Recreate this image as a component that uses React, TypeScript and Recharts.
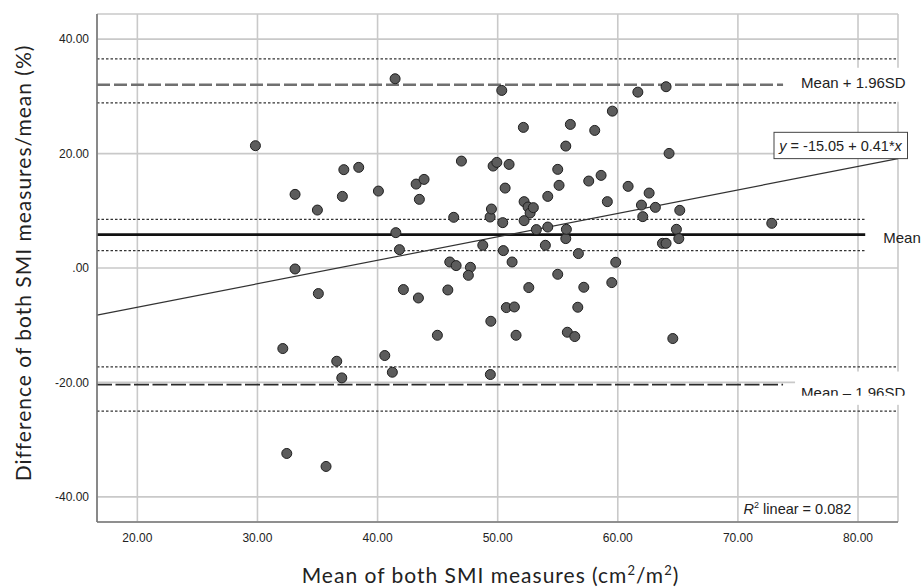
import {
  CartesianGrid,
  ReferenceLine,
  Scatter,
  ScatterChart,
  XAxis,
  YAxis,
} from "recharts";

// Mean of both SMI measures (x) and difference/mean in % (y)
const meanSmi = [
  29.83, 33.13, 34.99, 33.13, 35.07, 32.11, 32.44, 35.71, 36.6, 37.02, 37.19, 37.07, 38.43,
  40.07, 40.6, 41.23, 41.46, 41.52, 41.82, 42.15, 43.21, 43.87, 43.48, 43.4, 44.98, 45.85,
  46.01, 46.34, 46.54, 46.98, 47.73, 47.56, 48.76, 49.37, 49.48, 49.43, 49.39, 49.62, 49.93,
  50.34, 50.42, 50.47, 50.62, 50.72, 50.95, 51.2, 51.39, 51.53, 52.14, 52.2, 52.2, 52.53,
  52.7, 52.97, 52.59, 53.22, 53.97, 54.17, 54.17, 55.0, 55.0, 55.11, 55.67, 55.67, 55.72,
  55.8, 56.05, 56.42, 56.67, 56.72, 57.17, 57.58, 58.08, 58.61, 59.13, 59.55, 59.5, 59.83,
  60.86, 61.67, 61.97, 62.08, 62.61, 63.13, 63.72, 64.02, 64.02, 64.27, 64.58, 64.88, 65.08,
  65.16, 72.82,
];
const diffPct = [
  21.38, 12.87, 10.13, -0.17, -4.47, -14.08, -32.42, -34.69, -16.3, -19.21, 17.19, 12.52,
  17.59, 13.45, -15.3, -18.22, 33.08, 6.18, 3.21, -3.77, 14.67, 15.49, 12.0, -5.24, -11.76,
  -3.84, 1.05, 8.86, 0.42, 18.69, 0.12, -1.28, 3.97, 8.91, 10.31, -9.31, -18.62, 17.82,
  18.46, 31.04, 7.93, 3.04, 13.97, -6.92, 18.11, 1.05, -6.81, -11.76, 24.58, 11.6, 8.28,
  10.66, 9.61, 10.55, -3.42, 6.71, 3.97, 12.52, 7.16, 17.24, -1.1, 14.45, 21.31, 5.14, 6.76,
  -11.23, 25.1, -11.98, -6.86, 2.52, -3.37, 15.2, 24.05, 16.19, 11.6, 27.42, -2.55, 1.0,
  14.27, 30.74, 11.0, 8.98, 13.1, 10.6, 4.31, 4.31, 31.69, 20.03, -12.33, 6.76, 5.14, 10.08,
  7.81,
];

const xTicks = [20, 30, 40, 50, 60, 70, 80];
const yTicks = [-40, -20, 0, 20, 40];
const xDomain = [16.64, 83.33];
const yDomain = [-44.4, 44.4];

// Bland-Altman lines
const meanDiff = 5.83;
const meanCi = [3.04, 8.5];
const upperLoa = 32.03;
const upperCi = [28.88, 36.57];
const lowerLoa = -20.37;
const lowerCi = [-25.03, -17.3];
const meanLineEnd = 80.6;
const loaLineEnd = 73.76;
// fitted line y = -15.05 + 0.41*x, endpoints at the plot edges
const fitLine = [
  { x: 16.64, y: -8.23 },
  { x: 83.33, y: 19.12 },
];

const points = meanSmi.map((x, i) => ({ x, y: diffPct[i] }));

const TICK_FONT = "'Liberation Sans', Arial, sans-serif";
const TITLE_FONT = "Lato, 'Open Sans', sans-serif";

const fmtY = (v: number) => (v === 0 ? ".00" : v.toFixed(2));

const Dot = (p: any) => (
  <circle cx={p.cx} cy={p.cy} r={5} fill="#5c5c5c" stroke="#1f1f1f" strokeWidth={1} />
);

function LoaLabel(props: any) {
  const { viewBox, text, textDy, boxTop, boxBottom, clipAt, id } = props;
  const x = viewBox.x + viewBox.width;
  const y = viewBox.y;
  return (
    <g>
      <defs>
        <clipPath id={id}>
          <rect x={x + 10} y={y + boxTop} width={130} height={clipAt - boxTop} />
        </clipPath>
      </defs>
      <rect x={x + 12} y={y + boxTop} width={125} height={boxBottom - boxTop} fill="#fff" />
      <text
        x={x + 18}
        y={y + textDy}
        fontSize={15}
        fontFamily={TICK_FONT}
        fill="#222"
        clipPath={`url(#${id})`}
      >
        {text}
      </text>
    </g>
  );
}

function MeanLabel(props: any) {
  const { viewBox } = props;
  return (
    <text
      x={viewBox.x + viewBox.width + 18}
      y={viewBox.y + 8.4}
      fontSize={15}
      fontFamily={TICK_FONT}
      fill="#222"
    >
      Mean
    </text>
  );
}

function FitLabel(props: any) {
  const { viewBox } = props;
  const ex = viewBox.x + viewBox.width;
  const ey = viewBox.y;
  return (
    <g>
      <rect x={ex - 124} y={ey - 26.3} width={133.5} height={26.3} fill="#fff" stroke="#444" strokeWidth={1} />
      <text x={ex - 118.7} y={ey - 8} fontSize={14.5} fontFamily={TICK_FONT} fill="#222">
        <tspan fontStyle="italic">y</tspan>
        {" = -15.05 + 0.41*"}
        <tspan fontStyle="italic">x</tspan>
      </text>
    </g>
  );
}

function XTitle(props: any) {
  const { viewBox } = props;
  const cx = viewBox.x + viewBox.width / 2 - 7;
  return (
    <g>
      <text
        x={cx}
        y={viewBox.y + 60.5}
        textAnchor="middle"
        fontSize={21}
        letterSpacing={1}
        fontFamily={TITLE_FONT}
        fill="#222"
      >
        {"Mean of both SMI measures (cm"}
        <tspan fontSize={13} dy={-8}>2</tspan>
        <tspan dy={8}>/m</tspan>
        <tspan fontSize={13} dy={-8}>2</tspan>
        <tspan dy={8}>)</tspan>
      </text>
      <text
        x={viewBox.x + viewBox.width - 154.4}
        y={viewBox.y - 8}
        fontSize={14.5}
        fontFamily={TICK_FONT}
        fill="#222"
      >
        <tspan fontStyle="italic">R</tspan>
        <tspan fontSize={9} dy={-6}>2</tspan>
        <tspan dy={6}>{" linear = 0.082"}</tspan>
      </text>
    </g>
  );
}

function YTitle(props: any) {
  const { viewBox } = props;
  const cy = viewBox.y + viewBox.height / 2 - 5;
  return (
    <text
      x={31}
      y={cy}
      transform={`rotate(-90, 31, ${cy})`}
      textAnchor="middle"
      fontSize={21}
      letterSpacing={1}
      fontFamily={TITLE_FONT}
      fill="#222"
    >
      Difference of both SMI measures/mean (%)
    </text>
  );
}

const dotted = { stroke: "#333", strokeWidth: 1.3, strokeDasharray: "2.5 2" };

export default function App() {
  return (
    <div style={{ position: "absolute", left: 0, top: 0, background: "#fff" }}>
      <ScatterChart
        width={922}
        height={587}
        margin={{ top: 14, right: 24, bottom: 0, left: 0 }}
      >
        <CartesianGrid stroke="#c9c9c9" strokeWidth={1.6} />
        <XAxis
          type="number"
          dataKey="x"
          domain={xDomain}
          allowDataOverflow
          ticks={xTicks}
          tickFormatter={(v: number) => v.toFixed(2)}
          tick={{ fill: "#222", fontSize: 12, fontFamily: TICK_FONT }}
          tickLine={false}
          tickMargin={5}
          axisLine={{ stroke: "#777", strokeWidth: 1.6 }}
          height={65}
          label={(p: any) => <XTitle {...p} />}
        />
        <YAxis
          type="number"
          dataKey="y"
          domain={yDomain}
          allowDataOverflow
          ticks={yTicks}
          tickFormatter={fmtY}
          tick={{ fill: "#222", fontSize: 12, fontFamily: TICK_FONT }}
          tickLine={false}
          axisLine={{ stroke: "#777", strokeWidth: 1.6 }}
          width={97}
          label={(p: any) => <YTitle {...p} />}
        />

        {/* confidence bands of the limits (dotted) */}
        {upperCi.map((v) => (
          <ReferenceLine key={`u${v}`} y={v} {...dotted} ifOverflow="visible" />
        ))}
        {lowerCi.map((v) => (
          <ReferenceLine key={`l${v}`} y={v} {...dotted} ifOverflow="visible" />
        ))}
        {meanCi.map((v) => (
          <ReferenceLine
            key={`m${v}`}
            segment={[
              { x: xDomain[0], y: v },
              { x: meanLineEnd, y: v },
            ]}
            {...dotted}
            ifOverflow="visible"
          />
        ))}

        {/* limits of agreement */}
        <ReferenceLine
          segment={[
            { x: xDomain[0], y: upperLoa },
            { x: loaLineEnd, y: upperLoa },
          ]}
          stroke="#707070"
          strokeWidth={2.4}
          strokeDasharray="13 4"
          ifOverflow="visible"
          label={(p: any) => (
            <LoaLabel {...p} id="clipUp" text="Mean + 1.96SD" textDy={3} boxTop={-17} boxBottom={17} clipAt={17} />
          )}
        />
        <ReferenceLine
          segment={[
            { x: xDomain[0], y: lowerLoa },
            { x: loaLineEnd, y: lowerLoa },
          ]}
          stroke="#2a2a2a"
          strokeWidth={1.8}
          strokeDasharray="15 3.5"
          ifOverflow="visible"
          label={(p: any) => (
            <LoaLabel {...p} id="clipLow" text="Mean – 1.96SD" textDy={13} boxTop={-13} boxBottom={20.3} clipAt={11.3} />
          )}
        />

        {/* mean difference */}
        <ReferenceLine
          segment={[
            { x: xDomain[0], y: meanDiff },
            { x: meanLineEnd, y: meanDiff },
          ]}
          stroke="#111"
          strokeWidth={2.6}
          ifOverflow="visible"
          label={(p: any) => <MeanLabel {...p} />}
        />

        {/* fitted regression line */}
        <ReferenceLine
          segment={fitLine}
          stroke="#333"
          strokeWidth={1.2}
          ifOverflow="visible"
          label={(p: any) => <FitLabel {...p} />}
        />

        <Scatter data={points} shape={Dot} isAnimationActive={false} />
      </ScatterChart>
    </div>
  );
}
